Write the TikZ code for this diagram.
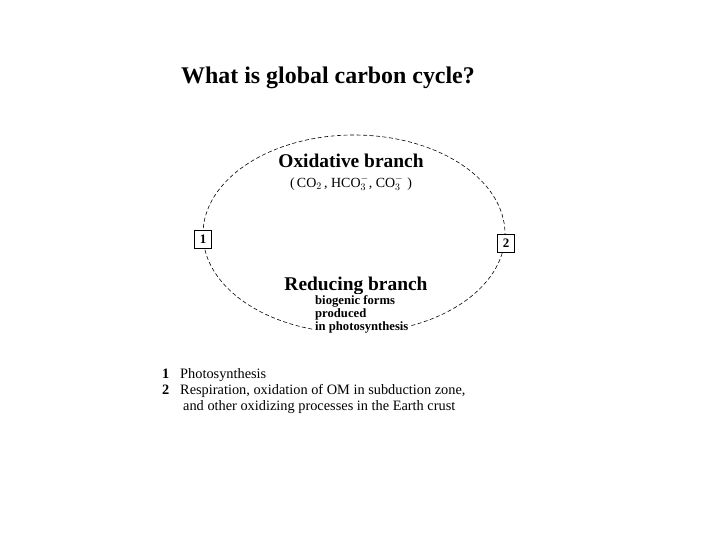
\documentclass[tikz,border=0pt]{standalone}
\usepackage{fontspec}
\setmainfont{Liberation Serif}
\begin{document}
\begin{tikzpicture}[x=1bp,y=-1bp,
  numbox/.style={draw,thin,fill=white,minimum width=17bp,minimum height=18bp,inner sep=0pt,font=\fontsize{13}{13}\selectfont\bfseries},
  branch/.style={font=\fontsize{19.5}{21}\selectfont\bfseries,inner sep=0pt},
  legend/.style={font=\fontsize{14.4}{16}\selectfont,inner sep=0pt,anchor=base west}]
\useasboundingbox[fill=white] (0,0) rectangle (720,540);
\node[font=\fontsize{24}{26}\selectfont\bfseries,inner sep=0pt,anchor=base] (title) at (328,84) {What is global carbon cycle?};
\draw[line width=0.6bp,dash pattern=on 4bp off 2.5bp] (354,234) ellipse [x radius=151, y radius=99];
\node[numbox] (b1) at (203,239) {1};
\node[numbox] (b2) at (506,243) {2};
\node[branch] (ox) at (351,161) {Oxidative branch};
\node[font=\fontsize{14}{16}\selectfont,inner sep=0pt] (oxf) at (351,183) {(\,CO$_2$\,, HCO$_3^-$, CO$_3^-$\;)};
\node[branch] (red) at (356,286) {Reducing branch};
\node[font=\fontsize{12.7}{13}\selectfont\bfseries,inner sep=1bp,fill=white,anchor=north west,align=left] (bio) at (314,294) {biogenic forms\\produced\\in photosynthesis};
\node[legend] (l1n) at (162,378) {\textbf{1}};
\node[legend] (l1) at (180,378) {Photosynthesis};
\node[legend] (l2n) at (162,394) {\textbf{2}};
\node[legend] (l2) at (180,394) {Respiration, oxidation of OM in subduction zone,};
\node[legend] (l3) at (183,410) {and other oxidizing processes in the Earth crust};
\end{tikzpicture}
\end{document}
